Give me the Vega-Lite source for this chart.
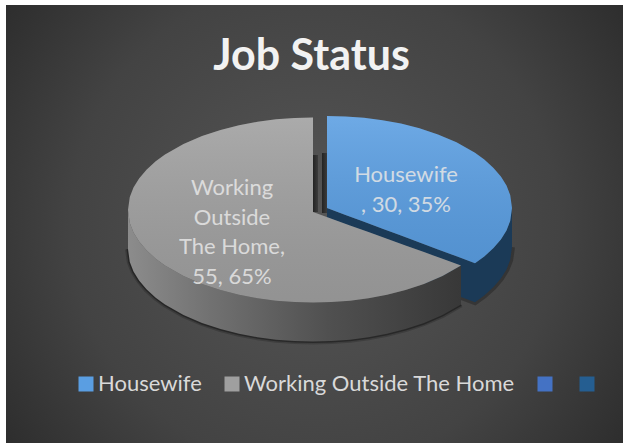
{"$schema":"https://vega.github.io/schema/vega-lite/v6.json","width":623,"height":443,"padding":0,"autosize":{"type":"none"},"background":"#ffffff","view":{"stroke":null},
"title":{"text":"Job Status","font":"Lato","fontSize":43,"fontWeight":"bold","color":"#f2f2f2","anchor":"middle","frame":"group","dy":113,"offset":0,"baseline":"alphabetic"},
"datasets":{
"panel":[{"ex":6,"ex2":623,"ey":5,"ey2":443}],
"gaps":[{"ex":313,"ex2":318,"ey":155,"ey2":212},{"ex":322,"ex2":327,"ey":153,"ey2":213}],
"labels":[{"Status":"Housewife","Value":30,"Share":35,"text":"Housewife\n, 30, 35%","ex":406,"ey":182},{"Status":"Working Outside The Home","Value":55,"Share":65,"text":"Working\nOutside\nThe Home,\n55, 65%","ex":232,"ey":195}],
"wallBlue":[{"ex":327,"ey":208,"ey2":247},{"ex":345.5,"ey":214.9,"ey2":253.9},{"ex":364,"ey":221.8,"ey2":260.8},{"ex":382.5,"ey":228.7,"ey2":267.7},{"ex":401,"ey":235.6,"ey2":274.6},{"ex":419.5,"ey":242.5,"ey2":281.5},{"ex":438,"ey":249.4,"ey2":288.4},{"ex":456.5,"ey":256.3,"ey2":295.3},{"ex":475,"ey":263.2,"ey2":302.2},{"ex":484.3,"ey":256.5,"ey2":295.5},{"ex":493.5,"ey":248.1,"ey2":287.1},{"ex":500.9,"ey":239.4,"ey2":278.4},{"ex":506.5,"ey":230.4,"ey2":269.4},{"ex":510.2,"ey":221,"ey2":260},{"ex":512,"ey":208,"ey2":247}],
"wallGray":[{"ex":128,"ey":210,"ey2":249},{"ex":129.8,"ey":223,"ey2":262},{"ex":133.5,"ey":232.5,"ey2":271.5},{"ex":139.1,"ey":241.5,"ey2":280.5},{"ex":146.5,"ey":250.3,"ey2":289.3},{"ex":155.7,"ey":258.7,"ey2":297.7},{"ex":165,"ey":265.5,"ey2":304.5},{"ex":183.5,"ey":276,"ey2":315},{"ex":202,"ey":284,"ey2":323},{"ex":220.5,"ey":290.1,"ey2":329.1},{"ex":239,"ey":294.8,"ey2":333.8},{"ex":257.5,"ey":298.2,"ey2":337.2},{"ex":276,"ey":300.7,"ey2":339.7},{"ex":294.5,"ey":302,"ey2":341},{"ex":313,"ey":302.5,"ey2":341.5},{"ex":331.5,"ey":302,"ey2":341},{"ex":350,"ey":300.7,"ey2":339.7},{"ex":368.5,"ey":298.2,"ey2":337.2},{"ex":387,"ey":294.8,"ey2":333.8},{"ex":405.5,"ey":290.1,"ey2":329.1},{"ex":424,"ey":284,"ey2":323},{"ex":442.5,"ey":276,"ey2":315},{"ex":461,"ey":265.5,"ey2":304.5}],
"tops":[
{"Status":"Housewife","ex":327,"ey":116,"ey2":208},{"Status":"Housewife","ex":345.5,"ey":116.5,"ey2":214.9},{"Status":"Housewife","ex":364,"ey":117.8,"ey2":221.8},{"Status":"Housewife","ex":382.5,"ey":120.2,"ey2":228.7},{"Status":"Housewife","ex":401,"ey":123.6,"ey2":235.6},{"Status":"Housewife","ex":419.5,"ey":128.3,"ey2":242.5},{"Status":"Housewife","ex":438,"ey":134.4,"ey2":249.4},{"Status":"Housewife","ex":456.5,"ey":142.3,"ey2":256.3},{"Status":"Housewife","ex":475,"ey":152.8,"ey2":263.2},{"Status":"Housewife","ex":484.3,"ey":159.5,"ey2":256.5},{"Status":"Housewife","ex":493.5,"ey":167.9,"ey2":248.1},{"Status":"Housewife","ex":500.9,"ey":176.6,"ey2":239.4},{"Status":"Housewife","ex":506.5,"ey":185.6,"ey2":230.4},{"Status":"Housewife","ex":510.2,"ey":195,"ey2":221},{"Status":"Housewife","ex":512,"ey":208,"ey2":208},
{"Status":"Working Outside The Home","ex":128,"ey":210,"ey2":210},{"Status":"Working Outside The Home","ex":129.8,"ey":197,"ey2":223},{"Status":"Working Outside The Home","ex":133.5,"ey":187.5,"ey2":232.5},{"Status":"Working Outside The Home","ex":139.1,"ey":178.5,"ey2":241.5},{"Status":"Working Outside The Home","ex":146.5,"ey":169.7,"ey2":250.3},{"Status":"Working Outside The Home","ex":155.7,"ey":161.3,"ey2":258.7},{"Status":"Working Outside The Home","ex":165,"ey":154.5,"ey2":265.5},{"Status":"Working Outside The Home","ex":183.5,"ey":144,"ey2":276},{"Status":"Working Outside The Home","ex":202,"ey":136,"ey2":284},{"Status":"Working Outside The Home","ex":220.5,"ey":129.9,"ey2":290.1},{"Status":"Working Outside The Home","ex":239,"ey":125.2,"ey2":294.8},{"Status":"Working Outside The Home","ex":257.5,"ey":121.8,"ey2":298.2},{"Status":"Working Outside The Home","ex":276,"ey":119.3,"ey2":300.7},{"Status":"Working Outside The Home","ex":294.5,"ey":118,"ey2":302},{"Status":"Working Outside The Home","ex":313,"ey":117.5,"ey2":302.5},{"Status":"Working Outside The Home","ex":313,"ey":212,"ey2":302.5},{"Status":"Working Outside The Home","ex":331.5,"ey":218.7,"ey2":302},{"Status":"Working Outside The Home","ex":350,"ey":225.4,"ey2":300.7},{"Status":"Working Outside The Home","ex":368.5,"ey":232.1,"ey2":298.2},{"Status":"Working Outside The Home","ex":387,"ey":238.8,"ey2":294.8},{"Status":"Working Outside The Home","ex":405.5,"ey":245.4,"ey2":290.1},{"Status":"Working Outside The Home","ex":424,"ey":252.1,"ey2":284},{"Status":"Working Outside The Home","ex":442.5,"ey":258.8,"ey2":276},{"Status":"Working Outside The Home","ex":461,"ey":265.5,"ey2":265.5}
]},
"encoding":{
"x":{"field":"ex","type":"quantitative","scale":{"domain":[0,623],"range":[0,623],"nice":false,"zero":false},"axis":null},
"y":{"field":"ey","type":"quantitative","scale":{"domain":[0,443],"range":[0,443],"nice":false,"zero":false},"axis":null}
},
"layer":[
{"data":{"name":"panel"},"mark":{"type":"rect","fill":{"gradient":"radial","x1":0.5,"y1":0.5,"x2":0.5,"y2":0.5,"r1":0,"r2":0.72,"stops":[{"offset":0,"color":"#565656"},{"offset":0.55,"color":"#434343"},{"offset":1,"color":"#232323"}]}},"encoding":{"x2":{"field":"ex2"},"y2":{"field":"ey2"}}},
{"data":{"name":"gaps"},"mark":{"type":"rect","fill":{"gradient":"linear","x1":0,"y1":0,"x2":1,"y2":0,"stops":[{"offset":0,"color":"#232323"},{"offset":1,"color":"#3c3c3c"}]}},"encoding":{"x2":{"field":"ex2"},"y2":{"field":"ey2"}}},
{"data":{"name":"wallGray"},"mark":{"type":"line","color":"#000000","strokeWidth":6,"opacity":0.18},"encoding":{"y":{"field":"ey2","type":"quantitative"}}},
{"data":{"name":"wallGray"},"mark":{"type":"line","color":"#000000","strokeWidth":3,"opacity":0.35},"encoding":{"y":{"field":"ey2","type":"quantitative"}}},
{"data":{"name":"wallBlue"},"mark":{"type":"line","color":"#000000","strokeWidth":6,"opacity":0.25},"encoding":{"y":{"field":"ey2","type":"quantitative"}}},
{"data":{"name":"wallBlue"},"mark":{"type":"area","fill":"#1b3a57"},"encoding":{"y2":{"field":"ey2"}}},
{"data":{"name":"wallGray"},"mark":{"type":"area","fill":{"gradient":"linear","x1":0,"y1":0,"x2":1,"y2":0,"stops":[{"offset":0,"color":"#8c8c8c"},{"offset":0.25,"color":"#717171"},{"offset":0.6,"color":"#505050"},{"offset":1,"color":"#383838"}]}},"encoding":{"y2":{"field":"ey2"}}},
{"data":{"name":"tops"},"mark":{"type":"area"},"encoding":{"y2":{"field":"ey2"},"color":{"field":"Status","type":"nominal","scale":{"domain":["Housewife","Working Outside The Home","Series 3","Series 4"],"range":["#5a9ee2","#9f9f9f","#4472c4","#255e91"]},"legend":{"title":null,"orient":"none","legendX":75,"legendY":373,"direction":"horizontal","columns":4,"symbolType":"square","symbolSize":225,"symbolStrokeWidth":0,"labelFont":"Lato","labelFontSize":22,"labelColor":"#d9d9d9","labelOffset":1,"columnPadding":19,"labelLimit":400,"padding":0,"labelExpr":"indexof(datum.label,'Series')==0 ? '' : datum.label"}}}},
{"data":{"name":"tops"},"mark":{"type":"area","fill":{"gradient":"linear","x1":0,"y1":0,"x2":0,"y2":1,"stops":[{"offset":0,"color":"rgba(255,255,255,0.12)"},{"offset":1,"color":"rgba(0,0,0,0.08)"}]}},"encoding":{"y2":{"field":"ey2"},"detail":{"field":"Status"}}},
{"data":{"name":"labels"},"mark":{"type":"text","font":"Lato","fontSize":22,"lineHeight":29.5,"lineBreak":"\n","align":"center","baseline":"alphabetic","color":"#e6e6e6","opacity":0.85},"encoding":{"text":{"field":"text"}}}
]}
